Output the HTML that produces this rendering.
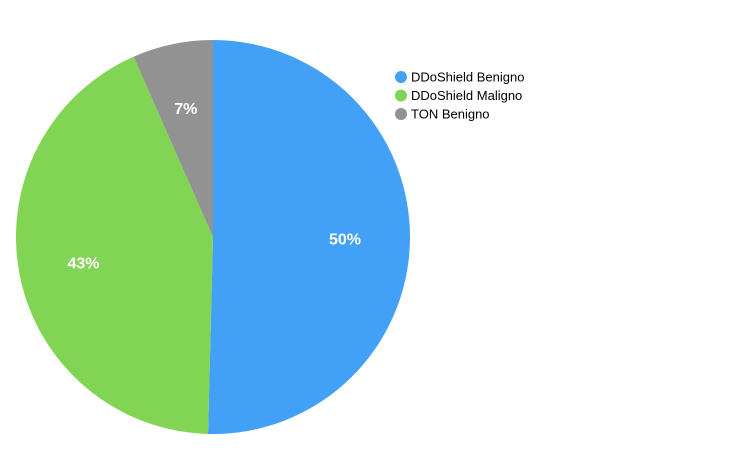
<!DOCTYPE html>
<html><head><meta charset="utf-8"><style>
body{margin:0;background:#fff;width:732px;height:446px;overflow:hidden;font-family:"Liberation Sans",Arial,sans-serif}
</style></head><body>
<svg id="chart" width="732" height="446" xmlns="http://www.w3.org/2000/svg"></svg>
<script>
const categories = ["DDoShield Benigno","DDoShield Maligno","TON Benigno"];
const values = [50.4, 43.0, 6.6];
const colors = ["#42a1f7","#82d455","#929292"];
const svg = document.getElementById('chart');
const NS = "http://www.w3.org/2000/svg";
const cx = 213, cy = 237, r = 197;
const total = values.reduce((a,b)=>a+b,0);
function pt(frac, rad){const a = frac*2*Math.PI; return [cx + rad*Math.sin(a), cy - rad*Math.cos(a)];}
let acc = 0;
values.forEach((v,i)=>{
  const s = acc/total, e = (acc+v)/total; acc += v;
  const [x1,y1] = pt(s,r), [x2,y2] = pt(e,r);
  const p = document.createElementNS(NS,'path');
  p.setAttribute('d',`M${cx},${cy} L${x1},${y1} A${r},${r} 0 ${e-s>0.5?1:0} 1 ${x2},${y2} Z`);
  p.setAttribute('fill',colors[i]);
  
  
  svg.appendChild(p);
  const [lx,ly] = pt((s+e)/2, r*0.67);
  const t = document.createElementNS(NS,'text');
  t.setAttribute('x',lx); t.setAttribute('y',ly+6);
  t.setAttribute('text-anchor','middle'); t.setAttribute('fill','#fff');
  t.setAttribute('font-size','16'); t.setAttribute('font-weight','bold');
  t.textContent = Math.round(v/total*100)+'%';
  
  
  svg.appendChild(t);
});
categories.forEach((c,i)=>{
  const y = 77 + i*18.5;
  const g = document.createElementNS(NS,'g');
  
  
  const ci = document.createElementNS(NS,'circle');
  ci.setAttribute('cx',401); ci.setAttribute('cy',y); ci.setAttribute('r',6);
  ci.setAttribute('fill',colors[i]);
  g.appendChild(ci);
  const t = document.createElementNS(NS,'text');
  t.setAttribute('x',411); t.setAttribute('y',y+4.5);
  t.setAttribute('font-size','13'); t.setAttribute('fill','#000');
  t.textContent = c;
  g.appendChild(t);
  svg.appendChild(g);
});
</script>
</body></html>
